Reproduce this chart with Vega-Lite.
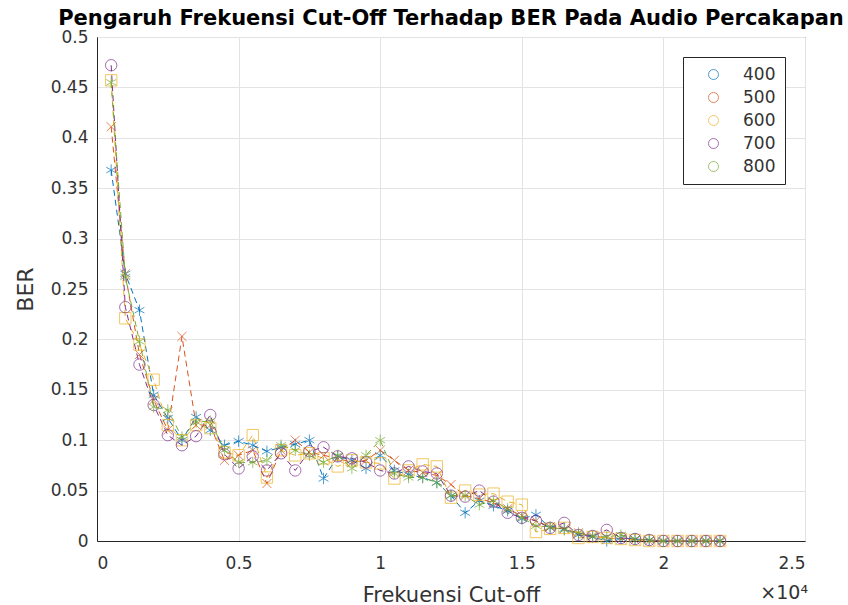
{
  "$schema": "https://vega.github.io/schema/vega-lite/v6.json",
  "autosize": {"type": "none"},
  "padding": {"left": 97, "top": 37, "right": 43, "bottom": 64},
  "width": 708,
  "height": 504,
  "background": "white",
  "title": {"text": "Pengaruh Frekuensi Cut-Off Terhadap BER Pada Audio Percakapan", "font": "DejaVu Sans", "fontSize": 21, "fontWeight": "bold", "color": "#000000", "offset": -1, "anchor": "middle"},
  "config": {
    "view": {"stroke": "#262626", "strokeWidth": 1},
    "axis": {"labelFont": "DejaVu Sans", "titleFont": "DejaVu Sans", "labelColor": "#333333", "titleColor": "#333333", "labelFontSize": 17, "titleFontSize": 21, "titleFontWeight": "normal", "domainColor": "#262626", "gridColor": "#e3e3e3", "ticks": false}
  },
  "data": {"values": [
    {"f": 500, "400": 0.368, "500": 0.411, "600": 0.457, "700": 0.472, "800": 0.455},
    {"f": 1000, "400": 0.265, "500": 0.265, "600": 0.221, "700": 0.232, "800": 0.262},
    {"f": 1500, "400": 0.229, "500": 0.185, "600": 0.195, "700": 0.175, "800": 0.198},
    {"f": 2000, "400": 0.145, "500": 0.140, "600": 0.160, "700": 0.135, "800": 0.133},
    {"f": 2500, "400": 0.122, "500": 0.110, "600": 0.115, "700": 0.105, "800": 0.130},
    {"f": 3000, "400": 0.100, "500": 0.203, "600": 0.100, "700": 0.095, "800": 0.103},
    {"f": 3500, "400": 0.123, "500": 0.115, "600": 0.115, "700": 0.104, "800": 0.118},
    {"f": 4000, "400": 0.110, "500": 0.115, "600": 0.112, "700": 0.125, "800": 0.119},
    {"f": 4500, "400": 0.095, "500": 0.080, "600": 0.088, "700": 0.086, "800": 0.090},
    {"f": 5000, "400": 0.099, "500": 0.085, "600": 0.085, "700": 0.072, "800": 0.078},
    {"f": 5500, "400": 0.095, "500": 0.090, "600": 0.105, "700": 0.084, "800": 0.078},
    {"f": 6000, "400": 0.089, "500": 0.057, "600": 0.063, "700": 0.070, "800": 0.080},
    {"f": 6500, "400": 0.093, "500": 0.090, "600": 0.090, "700": 0.087, "800": 0.095},
    {"f": 7000, "400": 0.096, "500": 0.100, "600": 0.085, "700": 0.070, "800": 0.090},
    {"f": 7500, "400": 0.100, "500": 0.088, "600": 0.087, "700": 0.089, "800": 0.085},
    {"f": 8000, "400": 0.062, "500": 0.085, "600": 0.082, "700": 0.093, "800": 0.078},
    {"f": 8500, "400": 0.084, "500": 0.082, "600": 0.074, "700": 0.084, "800": 0.085},
    {"f": 9000, "400": 0.080, "500": 0.078, "600": 0.080, "700": 0.082, "800": 0.072},
    {"f": 9500, "400": 0.072, "500": 0.080, "600": 0.078, "700": 0.078, "800": 0.085},
    {"f": 10000, "400": 0.085, "500": 0.090, "600": 0.077, "700": 0.070, "800": 0.100},
    {"f": 10500, "400": 0.070, "500": 0.080, "600": 0.062, "700": 0.067, "800": 0.067},
    {"f": 11000, "400": 0.066, "500": 0.070, "600": 0.070, "700": 0.074, "800": 0.063},
    {"f": 11500, "400": 0.063, "500": 0.068, "600": 0.076, "700": 0.069, "800": 0.063},
    {"f": 12000, "400": 0.058, "500": 0.065, "600": 0.074, "700": 0.067, "800": 0.058},
    {"f": 12500, "400": 0.045, "500": 0.056, "600": 0.043, "700": 0.045, "800": 0.045},
    {"f": 13000, "400": 0.028, "500": 0.045, "600": 0.050, "700": 0.044, "800": 0.045},
    {"f": 13500, "400": 0.040, "500": 0.042, "600": 0.046, "700": 0.050, "800": 0.036},
    {"f": 14000, "400": 0.035, "500": 0.038, "600": 0.047, "700": 0.039, "800": 0.040},
    {"f": 14500, "400": 0.030, "500": 0.032, "600": 0.039, "700": 0.028, "800": 0.032},
    {"f": 15000, "400": 0.022, "500": 0.025, "600": 0.036, "700": 0.023, "800": 0.023},
    {"f": 15500, "400": 0.026, "500": 0.020, "600": 0.009, "700": 0.020, "800": 0.015},
    {"f": 16000, "400": 0.013, "500": 0.014, "600": 0.012, "700": 0.013, "800": 0.014},
    {"f": 16500, "400": 0.012, "500": 0.012, "600": 0.013, "700": 0.018, "800": 0.011},
    {"f": 17000, "400": 0.006, "500": 0.008, "600": 0.003, "700": 0.006, "800": 0.008},
    {"f": 17500, "400": 0.004, "500": 0.005, "600": 0.004, "700": 0.005, "800": 0.005},
    {"f": 18000, "400": 0.000, "500": 0.003, "600": 0.003, "700": 0.011, "800": 0.004},
    {"f": 18500, "400": 0.003, "500": 0.002, "600": 0.002, "700": 0.003, "800": 0.006},
    {"f": 19000, "400": 0.002, "500": 0.001, "600": 0.001, "700": 0.002, "800": 0.002},
    {"f": 19500, "400": 0.001, "500": 0.000, "600": 0.000, "700": 0.001, "800": 0.001},
    {"f": 20000, "400": 0, "500": 0, "600": 0, "700": 0, "800": 0},
    {"f": 20500, "400": 0, "500": 0, "600": 0, "700": 0, "800": 0},
    {"f": 21000, "400": 0, "500": 0, "600": 0, "700": 0, "800": 0},
    {"f": 21500, "400": 0, "500": 0, "600": 0, "700": 0, "800": 0},
    {"f": 22000, "400": 0, "500": 0, "600": 0, "700": 0, "800": 0}
  ]},
  "transform": [{"fold": ["400", "500", "600", "700", "800"], "as": ["series", "ber"]}],
  "encoding": {
    "x": {"field": "f", "type": "quantitative", "scale": {"domain": [0, 25000], "nice": false, "zero": false},
      "axis": {"values": [0, 5000, 10000, 15000, 20000, 25000], "labelExpr": "format(datum.value/10000, '~g')", "title": "Frekuensi Cut-off", "labelPadding": 14, "titlePadding": 13, "grid": true}},
    "y": {"field": "ber", "type": "quantitative", "scale": {"domain": [0, 0.5], "nice": false},
      "axis": {"values": [0, 0.05, 0.1, 0.15, 0.2, 0.25, 0.3, 0.35, 0.4, 0.45, 0.5], "format": "~g", "title": "BER", "titleFontSize": 22, "labelPadding": 9, "titlePadding": 13, "grid": true}},
    "color": {"field": "series", "type": "nominal",
      "scale": {"domain": ["400", "500", "600", "700", "800"], "range": ["#0072BD", "#D95319", "#EDB120", "#7E2F8E", "#77AC30"]}}
  },
  "layer": [
    {"mark": {"type": "line", "strokeWidth": 1, "strokeDash": [6, 4]}, "encoding": {}},
    {"mark": {"type": "point", "filled": false, "strokeWidth": 1, "size": 130},
     "encoding": {
       "shape": {"field": "series", "type": "nominal", "legend": null,
         "scale": {"range": [
           "M0,-1V1M-0.866,-0.5L0.866,0.5M-0.866,0.5L0.866,-0.5",
           "M-0.8,-0.8L0.8,0.8M-0.8,0.8L0.8,-0.8",
           "square",
           "circle",
           "M0,-1V1M-0.866,-0.5L0.866,0.5M-0.866,0.5L0.866,-0.5"]}},
       "color": {"field": "series", "type": "nominal",
         "legend": {"title": null, "orient": "none", "legendX": 586, "legendY": 20, "padding": 9,
           "strokeColor": "#262626", "fillColor": "white", "labelFont": "DejaVu Sans", "labelFontSize": 17, "labelColor": "#333333",
           "symbolSize": 100, "symbolStrokeWidth": 1, "symbolOffset": 13, "labelOffset": 21, "rowPadding": 5,
           "encode": {"symbols": {"update": {"fill": {"value": "transparent"}, "strokeDash": {"value": [1, 0]}, "shape": {"signal": "datum.value === '400' || datum.value === '800' ? 'M-4.3,0H4.3M0,-1.1V1.1M-0.95,-0.55L0.95,0.55M-0.95,0.55L0.95,-0.55' : datum.value === '500' ? 'M-4.3,0H4.3M-0.8,-0.8L0.8,0.8M-0.8,0.8L0.8,-0.8' : datum.value === '600' ? 'M-4.3,0H-0.9M0.9,0H4.3M-0.9,-0.9H0.9V0.9H-0.9Z' : 'M-4.3,0H-1M1,0H4.3M-1,0A1,1,0,1,0,1,0A1,1,0,1,0,-1,0Z'"}}}}}}
     }},
    {"transform": [{"filter": "datum.f === 22000 && datum.series === '400'"}],
     "mark": {"type": "text", "align": "right", "baseline": "middle", "dx": 3, "dy": 52, "font": "DejaVu Sans", "fontSize": 19, "color": "#333333", "text": "×10⁴"},
     "encoding": {"x": {"datum": 25000}, "y": {"datum": 0}, "color": {"value": "#333333"}}}
  ]
}
